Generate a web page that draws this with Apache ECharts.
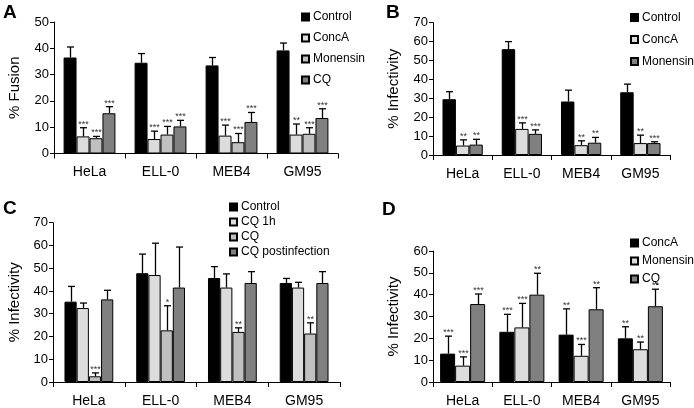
<!DOCTYPE html>
<html><head><meta charset="utf-8">
<script src="https://cdn.jsdelivr.net/npm/echarts@6/dist/echarts.min.js"></script>
<style>html,body{margin:0;padding:0;background:#fff}#c{width:694px;height:408px}</style>
</head><body><div id="c"></div>
<script>
var categories = ['HeLa', 'ELL-0', 'MEB4', 'GM95'];

// Panel A: % Fusion
var aNames = ['Control', 'ConcA', 'Monensin', 'CQ'];
var aControl = [36.5, 34.5, 33.5, 39.2], aControlErr = [4.0, 3.5, 3.0, 2.8];
var aConcA = [6.5, 5.5, 6.8, 7.2], aConcAErr = [3.3, 3.0, 4.0, 4.0];
var aMonensin = [5.8, 7.2, 4.3, 7.5], aMonensinErr = [0.7, 3.1, 3.3, 2.3];
var aCQ = [15.3, 10.3, 12.0, 13.5], aCQErr = [2.5, 2.3, 3.6, 3.5];
var aStars = [['', '', '', ''], ['***', '***', '***', '**'], ['***', '***', '***', '***'], ['***', '***', '***', '***']];
var aTicks = [0, 10, 20, 30, 40, 50];

// Panel B: % Infectivity
var bNames = ['Control', 'ConcA', 'Monensin'];
var bControl = [29.5, 56.0, 28.3, 33.2], bControlErr = [4.0, 4.0, 6.0, 4.3];
var bConcA = [5.0, 13.8, 5.2, 6.3], bConcAErr = [3.0, 3.2, 2.3, 4.2];
var bMonensin = [5.5, 11.2, 6.5, 6.3], bMonensinErr = [2.8, 2.1, 2.8, 0.7];
var bStars = [['', '', '', ''], ['**', '***', '**', '**'], ['**', '***', '**', '***']];
var bTicks = [0, 10, 20, 30, 40, 50, 60, 70];

// Panel C: % Infectivity
var cNames = ['Control', 'CQ 1h', 'CQ', 'CQ postinfection'];
var cControl = [35.3, 47.8, 45.7, 43.5], cControlErr = [6.7, 8.4, 5.0, 2.0];
var cCQ1h = [32.5, 47.0, 41.5, 41.5], cCQ1hErr = [2.2, 14.0, 6.0, 2.3];
var cCQ = [2.5, 22.7, 22.0, 21.3], cCQErr = [1.5, 10.8, 1.8, 4.7];
var cCQpost = [36.3, 41.5, 43.5, 43.5], cCQpostErr = [4.0, 17.8, 5.0, 5.0];
var cStars = [['', '', '', ''], ['', '', '', ''], ['***', '*', '**', '**'], ['', '', '', '']];
var cTicks = [0, 10, 20, 30, 40, 50, 60, 70];

// Panel D: % Infectivity
var dNames = ['ConcA', 'Monensin', 'CQ'];
var dConcA = [13.0, 23.0, 21.7, 20.0], dConcAErr = [8.0, 8.0, 11.8, 5.3];
var dMonensin = [7.5, 25.0, 12.0, 15.0], dMonensinErr = [4.0, 11.0, 5.2, 3.3];
var dCQ = [35.7, 40.0, 33.3, 34.7], dCQErr = [4.6, 9.8, 9.9, 7.8];
var dStars = [['***', '***', '**', '**'], ['***', '***', '***', '**'], ['***', '**', '**', '**']];
var dTicks = [0, 10, 20, 30, 40, 50, 60];

var BLACK = '#000000', LIGHT = '#dcdcdc', MID = '#c0c0c0', DARK = '#808080';
var FONT = 'Liberation Sans, Arial, sans-serif';

var panels = [
  {key: 'A', names: aNames, vals: [aControl, aConcA, aMonensin, aCQ], errs: [aControlErr, aConcAErr, aMonensinErr, aCQErr], stars: aStars, ticks: aTicks, yname: '% Fusion',
   colors: [BLACK, LIGHT, MID, DARK], grid: {left: 54, top: 22, width: 284, height: 131.5}, gap: 0.27,
   legend: {left: 301, top: 10, itemGap: 7}, letter: [3, 14], ynameGap: 32},
  {key: 'B', names: bNames, vals: [bControl, bConcA, bMonensin], errs: [bControlErr, bConcAErr, bMonensinErr], stars: bStars, ticks: bTicks, yname: '% Infectivity',
   colors: [BLACK, LIGHT, DARK], grid: {left: 433, top: 22.7, width: 237, height: 132.3}, gap: 0.32,
   legend: {left: 630, top: 10.5, itemGap: 8}, letter: [386, 14], ynameGap: 32},
  {key: 'C', names: cNames, vals: [cControl, cCQ1h, cCQ, cCQpost], errs: [cControlErr, cCQ1hErr, cCQErr, cCQpostErr], stars: cStars, ticks: cTicks, yname: '% Infectivity',
   colors: [BLACK, LIGHT, MID, DARK], grid: {left: 53, top: 222.7, width: 287, height: 159.5}, gap: 0.32,
   legend: {left: 229, top: 200, itemGap: 1}, letter: [3, 210], ynameGap: 31},
  {key: 'D', names: dNames, vals: [dConcA, dMonensin, dCQ], errs: [dConcAErr, dMonensinErr, dCQErr], stars: dStars, ticks: dTicks, yname: '% Infectivity',
   colors: [BLACK, LIGHT, DARK], grid: {left: 433, top: 251, width: 237, height: 131.7}, gap: 0.24,
   legend: {left: 630, top: 236, itemGap: 4}, letter: [382, 211], ynameGap: 32}
];

var grids = [], xAxes = [], yAxes = [], series = [], legends = [], graphics = [];

panels.forEach(function (p, k) {
  grids.push(p.grid);
  xAxes.push({
    type: 'category', gridIndex: k, data: categories,
    axisLine: {lineStyle: {color: '#000', width: 1}},
    axisTick: {show: true, length: 5, lineStyle: {color: '#000'}},
    axisLabel: {color: '#000', fontSize: 14, fontFamily: FONT, margin: 12}
  });
  var t = p.ticks;
  yAxes.push({
    type: 'value', gridIndex: k, min: t[0], max: t[t.length - 1], interval: t[1] - t[0],
    name: p.yname, nameLocation: 'middle', nameGap: p.ynameGap, nameRotate: 90,
    nameTextStyle: {color: '#000', fontSize: 15, fontFamily: FONT},
    axisLine: {show: true, lineStyle: {color: '#000', width: 1}},
    axisTick: {show: true, length: 4, lineStyle: {color: '#000'}},
    axisLabel: {color: '#000', fontSize: 13, fontFamily: FONT, margin: 5},
    splitLine: {show: false}
  });
  var n = p.names.length;
  var legendData = [];
  p.names.forEach(function (nm, i) {
    var sname = p.key + ':' + nm;
    legendData.push(sname);
    series.push({
      type: 'bar', name: sname, xAxisIndex: k, yAxisIndex: k, data: p.vals[i],
      barGap: '0%', barCategoryGap: (p.gap * 100) + '%',
      itemStyle: {color: p.colors[i], borderColor: '#000', borderWidth: 1},
      emphasis: {disabled: true}, silent: true
    });
  });
  p.names.forEach(function (nm, i) {
    var vals = p.vals[i], errs = p.errs[i], stars = p.stars[i], gap = p.gap;
    series.push({
      type: 'custom', xAxisIndex: k, yAxisIndex: k, silent: true, z: 5,
      data: vals.map(function (v, j) { return [j, v, errs[j]]; }),
      renderItem: function (params, api) {
        var c = api.value(0), v = api.value(1), e = api.value(2);
        var base = api.coord([c, v]);
        var top = api.coord([c, v + e]);
        var band = api.size([1, 0])[0];
        var gw = band * (1 - gap);
        var bw = gw / n;
        var x = Math.round(base[0] - gw / 2 + bw * (i + 0.5)) + 0.5;
        var children = [
          {type: 'line', shape: {x1: x, y1: base[1], x2: x, y2: top[1]}, style: {stroke: '#000', lineWidth: 1.3}},
          {type: 'line', shape: {x1: x - 3.5, y1: top[1], x2: x + 3.5, y2: top[1]}, style: {stroke: '#000', lineWidth: 1.3}}
        ];
        var s = stars[params.dataIndex];
        if (s) {
          children.push({type: 'text', style: {x: x, y: top[1] + 1, text: s, textAlign: 'center', textVerticalAlign: 'bottom',
            font: '9px ' + FONT, fill: '#333'}});
        }
        return {type: 'group', children: children};
      }
    });
  });
  legends.push({
    data: legendData, orient: 'vertical', left: p.legend.left, top: p.legend.top, padding: 0,
    itemGap: p.legend.itemGap, itemWidth: 7, itemHeight: 7, icon: 'rect', selectedMode: false,
    formatter: function (name) { return name.split(':')[1]; },
    textStyle: {color: '#000', fontSize: 12, fontFamily: FONT, lineHeight: 14, padding: [0, 0, 0, -1]}
  });
  graphics.push({type: 'text', left: p.letter[0], top: p.letter[1] - 11,
    style: {text: p.key, font: 'bold 19px ' + FONT, fill: '#000'}});
});

var chart = echarts.init(document.getElementById('c'), null, {renderer: 'canvas'});
chart.setOption({
  animation: false,
  grid: grids, xAxis: xAxes, yAxis: yAxes, series: series, legend: legends, graphic: graphics
});
</script>
</body></html>
